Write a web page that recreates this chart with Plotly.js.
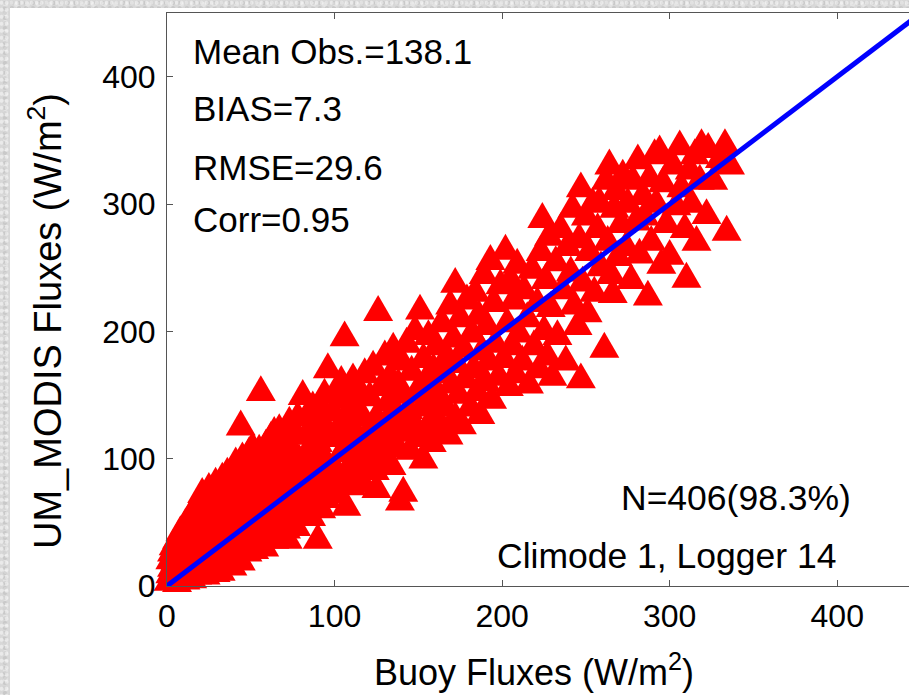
<!DOCTYPE html>
<html>
<head>
<meta charset="utf-8">
<script src="https://cdn.plot.ly/plotly-3.0.1.min.js"></script>
<style>
  html, body { margin: 0; padding: 0; width: 909px; height: 695px; overflow: hidden; }
  #frame {
    position: absolute; left: 0; top: 0; width: 909px; height: 695px;
    background:
      radial-gradient(circle at 30% 40%, rgba(255,255,255,0.45) 0 1.5px, transparent 2.5px) 0 0 / 5px 7px,
      radial-gradient(circle at 70% 60%, rgba(0,0,0,0.07) 0 1.5px, transparent 2.5px) 0 0 / 7px 5px,
      radial-gradient(circle at 50% 50%, rgba(255,255,255,0.3) 0 2px, transparent 3px) 0 0 / 11px 9px,
      #d8d8d8;
  }
  #sheet { position: absolute; left: 10px; top: 8px; right: 0; bottom: 0; background: #fff; }
  #chart { position: absolute; left: 0; top: 0; }
</style>
</head>
<body>
<div id="frame"><div id="sheet"></div></div>
<div id="chart"></div>
<script>
// Buoy vs UM_MODIS flux match-ups, [buoy, modis] in W/m2
const matchups = [
  [1,3],[2,9],[2,20],[3,14],[3,26],[4,5],[4,31],[5,11],[5,19],[6,2],[6,36],[7,24],[8,13],[8,42],[9,6],[9,30],[10,18],[10,38],[11,4],[11,48],
  [12,26],[12,34],[13,9],[13,52],[14,20],[14,44],[15,5],[15,31],[16,58],[16,14],[17,38],[17,24],[18,62],[18,8],[19,46],[19,30],[20,68],[20,18],[7,33],[13,40],
  [21,12],[21,40],[21,72],[22,25],[22,55],[23,8],[23,34],[23,62],[24,18],[24,47],[25,30],[25,76],[26,14],[26,52],[27,40],[27,66],[28,22],[28,58],[29,10],[29,80],
  [30,35],[30,48],[30,70],[31,26],[31,62],[32,11],[32,44],[33,56],[33,84],[34,30],[34,72],[35,18],[35,50],[36,88],[36,38],[37,62],[37,24],[38,78],[38,46],[39,15],
  [39,56],[40,34],[40,68],[40,86],[26,60],
  [41,22],[41,52],[41,96],[42,40],[42,74],[43,30],[43,62],[44,125],[44,19],[44,88],[45,48],[45,100],[46,36],[46,70],[47,58],[47,92],[48,26],[48,80],[49,46],[49,104],
  [50,34],[50,64],[50,86],[51,54],[51,108],[52,28],[52,76],[53,42],[53,96],[54,62],[54,84],[55,36],[55,106],[56,152],[56,52],[57,72],[57,94],[58,30],[58,60],[59,44],
  [59,110],[60,80],
  [61,40],[61,98],[62,66],[62,116],[63,52],[63,84],[64,120],[64,36],[65,72],[65,104],[66,48],[66,90],[67,60],[67,122],[68,40],[68,78],[69,100],[69,56],[70,86],[70,68],
  [71,112],[71,44],[72,36],[72,94],[73,62],[73,128],[74,80],[74,50],[75,106],[75,70],[76,90],[76,58],[77,118],[77,46],[78,76],[78,132],[79,98],[80,64],
  [81,149],[81,70],[82,100],[82,56],[83,118],[83,84],[84,62],[84,134],[85,92],[85,74],[86,110],[86,54],[87,140],[87,80],[88,98],[88,66],[89,124],[90,36],[90,88],[90,112],
  [91,72],[91,142],[92,104],[92,60],[93,128],[94,82],[94,150],[95,96],[95,68],[96,170],[97,116],[98,78],[99,136],
  [101,90],[101,150],[102,72],[103,120],[104,104],[104,160],[105,84],[106,195],[106,132],[107,62],[108,112],[108,146],[109,94],[110,78],[110,126],[111,162],[112,100],[113,138],[114,86],[114,116],
  [115,152],[116,104],[117,80],[117,132],[118,166],[119,96],[120,120],
  [121,148],[122,104],[123,172],[124,90],[125,76],[125,132],[126,215],[127,114],[128,156],[129,98],[130,180],[130,126],[131,108],[132,144],[133,164],[134,94],[135,122],[135,186],[136,138],[137,110],
  [138,158],[139,66],[139,130],[140,176],
  [141,73],[141,150],[142,120],[143,190],[144,138],[145,106],[146,168],[147,128],[148,200],[149,152],[150,116],[151,216],[152,140],[153,99],[153,178],[154,160],[155,124],[156,196],[157,146],[158,112],
  [159,170],[160,134],
  [161,188],[162,150],[163,122],[164,206],[165,166],[166,140],[167,180],[168,118],[169,220],[170,158],[171,194],[172,237],[172,132],[173,174],[174,150],[175,210],[176,126],[177,186],[178,162],[179,224],
  [181,140],[182,198],[183,170],[184,230],[185,152],[186,212],[187,134],[188,184],[189,244],[190,160],[191,204],[192,176],[193,255],[194,146],[195,222],[196,190],[198,164],[199,236],
  [201,178],[202,263],[203,206],[204,156],[205,240],[206,188],[207,224],[208,166],[209,252],[210,198],[212,176],[213,232],[215,210],[216,158],[218,248],[219,188],
  [221,222],[222,170],[223,262],[224,288],[225,200],[226,240],[227,180],[228,274],[229,218],[230,164],[232,254],[233,196],[235,280],[236,232],[238,176],[239,266],
  [241,246],[242,296],[243,220],[245,204],[246,272],[247,162],[247,312],[248,238],[250,290],[251,214],[252,262],[254,300],[255,230],[257,280],[258,301],[259,250],
  [261,186],[262,318],[263,270],[264,330],[265,244],[266,229],[267,296],[268,310],[269,258],[271,284],[272,322],[274,266],[275,300],[277,240],[278,318],[280,286],
  [281,334],[282,260],[284,306],[285,290],[287,227],[288,320],[289,270],[291,338],[292,300],[294,341],[295,252],[296,316],[298,284],[300,259],
  [302,330],[304,298],[306,345],[307,312],[309,280],[310,241],[312,326],[313,300],[315,338],[316,270],[318,318],[319,346],
  [322,291],[323,343],[326,318],[330,335],[333,346],[334,278],[336,330]
];
const buoyFlux = matchups.map(p => p[0]);
const modisFlux = matchups.map(p => p[1]);

// 1:1 reference line
const oneToOne = [0, 450];

const axisRange = [0, 450];
const tickValues = [0, 100, 200, 300, 400];

const statsLines = ['Mean Obs.=138.1', 'BIAS=7.3', 'RMSE=29.6', 'Corr=0.95'];
const countLabel = 'N=406(98.3%)';
const siteLabel = 'Climode 1, Logger 14';
const xTitle = 'Buoy Fluxes (W/m<sup>2</sup>)';
const yTitle = 'UM_MODIS Fluxes (W/m<sup>2</sup>)';

const FONT = 'Liberation Sans, Arial, Helvetica, sans-serif';
const plotLeft = 167, plotTop = 13, plotW = 754, plotH = 573;
const px = x => (x - plotLeft) / plotW;
const py = y => (plotTop + plotH - y) / plotH;

const statsY = [51, 109, 167, 219];
const annotations = statsLines.map((t, i) => ({
  text: t, xref: 'paper', yref: 'paper', x: px(191), y: py(statsY[i]),
  xanchor: 'left', yanchor: 'middle', showarrow: false,
  font: { family: FONT, size: 35, color: '#000' }
}));
annotations.push({
  text: countLabel, xref: 'paper', yref: 'paper', x: px(619), y: py(498),
  xanchor: 'left', yanchor: 'middle', showarrow: false,
  font: { family: FONT, size: 35.5, color: '#000' }
});
annotations.push({
  text: siteLabel, xref: 'paper', yref: 'paper', x: px(495), y: py(556),
  xanchor: 'left', yanchor: 'middle', showarrow: false,
  font: { family: FONT, size: 35.5, color: '#000' }
});
// axis titles
annotations.push({
  text: xTitle, xref: 'paper', yref: 'paper', x: px(534), y: py(670),
  xanchor: 'center', yanchor: 'middle', showarrow: false,
  font: { family: FONT, size: 36, color: '#000' }
});
annotations.push({
  text: yTitle, xref: 'paper', yref: 'paper', x: px(45), y: py(321),
  xanchor: 'center', yanchor: 'middle', textangle: -90, showarrow: false,
  font: { family: FONT, size: 38, color: '#000' }
});

const axisCommon = {
  range: axisRange, tickvals: tickValues, ticktext: tickValues.map(String),
  ticks: 'inside', ticklen: 6, tickwidth: 1, tickcolor: '#555',
  showline: true, linecolor: '#555', linewidth: 1, mirror: 'ticks',
  showgrid: false, zeroline: false, fixedrange: true,
  tickfont: { family: FONT, size: 32, color: '#000' }
};

const traces = [
  {
    x: buoyFlux, y: modisFlux, type: 'scatter', mode: 'markers', cliponaxis: false,
    marker: { symbol: 'triangle-up', size: 26, color: '#ff0000', line: { width: 0 } },
    hoverinfo: 'skip'
  },
  {
    x: oneToOne, y: oneToOne, type: 'scatter', mode: 'lines',
    line: { color: '#0000ff', width: 5 }, hoverinfo: 'skip'
  }
];

const layout = {
  width: 921, height: 695,
  margin: { l: plotLeft, r: 0, t: plotTop, b: 695 - plotTop - plotH, pad: 0 },
  paper_bgcolor: 'rgba(0,0,0,0)', plot_bgcolor: '#ffffff',
  showlegend: false,
  xaxis: Object.assign({}, axisCommon, { ticklabelstandoff: 2 }),
  yaxis: Object.assign({}, axisCommon, { ticklabelstandoff: 4 }),
  annotations: annotations
};

Plotly.newPlot('chart', traces, layout, { staticPlot: true, displayModeBar: false }).then(gd => {
  // stretch triangles vertically so they are equilateral
  gd.querySelectorAll('.scatterlayer .trace:first-child path.point').forEach(p => {
    const t = p.getAttribute('transform') || '';
    if (t.indexOf('scale') < 0) p.setAttribute('transform', t + ' scale(1,1.33)');
  });
});
</script>
</body>
</html>
